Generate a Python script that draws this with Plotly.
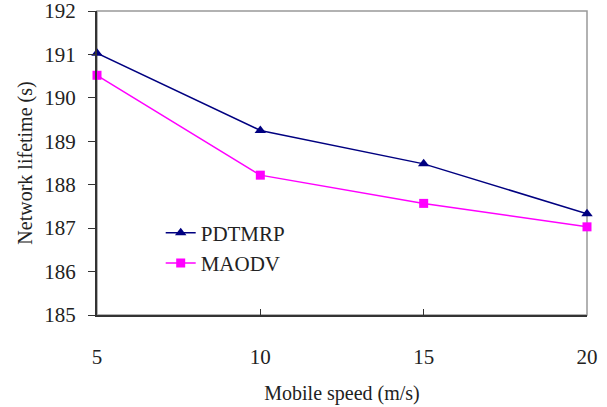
import plotly.graph_objects as go

speeds = [5, 10, 15, 20]
pdtmrp = [191.03, 189.25, 188.48, 187.33]
maodv = [190.52, 188.22, 187.57, 187.03]

font_family = "Liberation Serif, serif"

fig = go.Figure()
fig.add_trace(go.Scatter(x=speeds, y=pdtmrp, mode="lines+markers", name="PDTMRP",
                         line=dict(color="#000080", width=1.5),
                         marker=dict(symbol="triangle-up", size=10, color="#000080"),
                         cliponaxis=False))
fig.add_trace(go.Scatter(x=speeds, y=maodv, mode="lines+markers", name="MAODV",
                         line=dict(color="#FF00FF", width=1.5),
                         marker=dict(symbol="square", size=9, color="#FF00FF"),
                         cliponaxis=False))

fig.add_shape(type="rect", xref="paper", yref="paper", x0=0, y0=0, x1=1, y1=1,
              line=dict(color="#999999", width=1.5), layer="below")

fig.update_layout(
    width=607, height=407,
    margin=dict(l=97, r=20, t=11, b=92, autoexpand=False),
    paper_bgcolor="white", plot_bgcolor="white",
    font=dict(family=font_family, size=21, color="#222222"),
    showlegend=True,
    legend=dict(x=0.13, y=0.337, xanchor="left", yanchor="top",
                bgcolor="rgba(0,0,0,0)", font=dict(family=font_family, size=21), tracegroupgap=0,
                itemsizing="trace"),
)
fig.update_xaxes(range=[5, 20], tickvals=[5, 10, 15, 20], ticks="inside", ticklen=6,
                 tickcolor="#333333", showline=True, linecolor="#333333", linewidth=2,
                 showgrid=False, zeroline=False, ticklabelstandoff=22, automargin=False,
                 ticklabeloverflow="allow",
                 tickfont=dict(family=font_family, size=21),
                 title=dict(text="Mobile speed (m/s)", standoff=18,
                            font=dict(family=font_family, size=20)))
fig.update_yaxes(range=[185, 192], dtick=1, ticks="outside", ticklen=7,
                 tickcolor="#333333", showline=True, linecolor="#333333", linewidth=2,
                 showgrid=False, zeroline=False, ticklabelstandoff=8, automargin=False,
                 ticklabeloverflow="allow",
                 tickfont=dict(family=font_family, size=21),
                 title=dict(text="Network lifetime (s)", standoff=6,
                            font=dict(family=font_family, size=20)))

fig.write_html("out.html")
